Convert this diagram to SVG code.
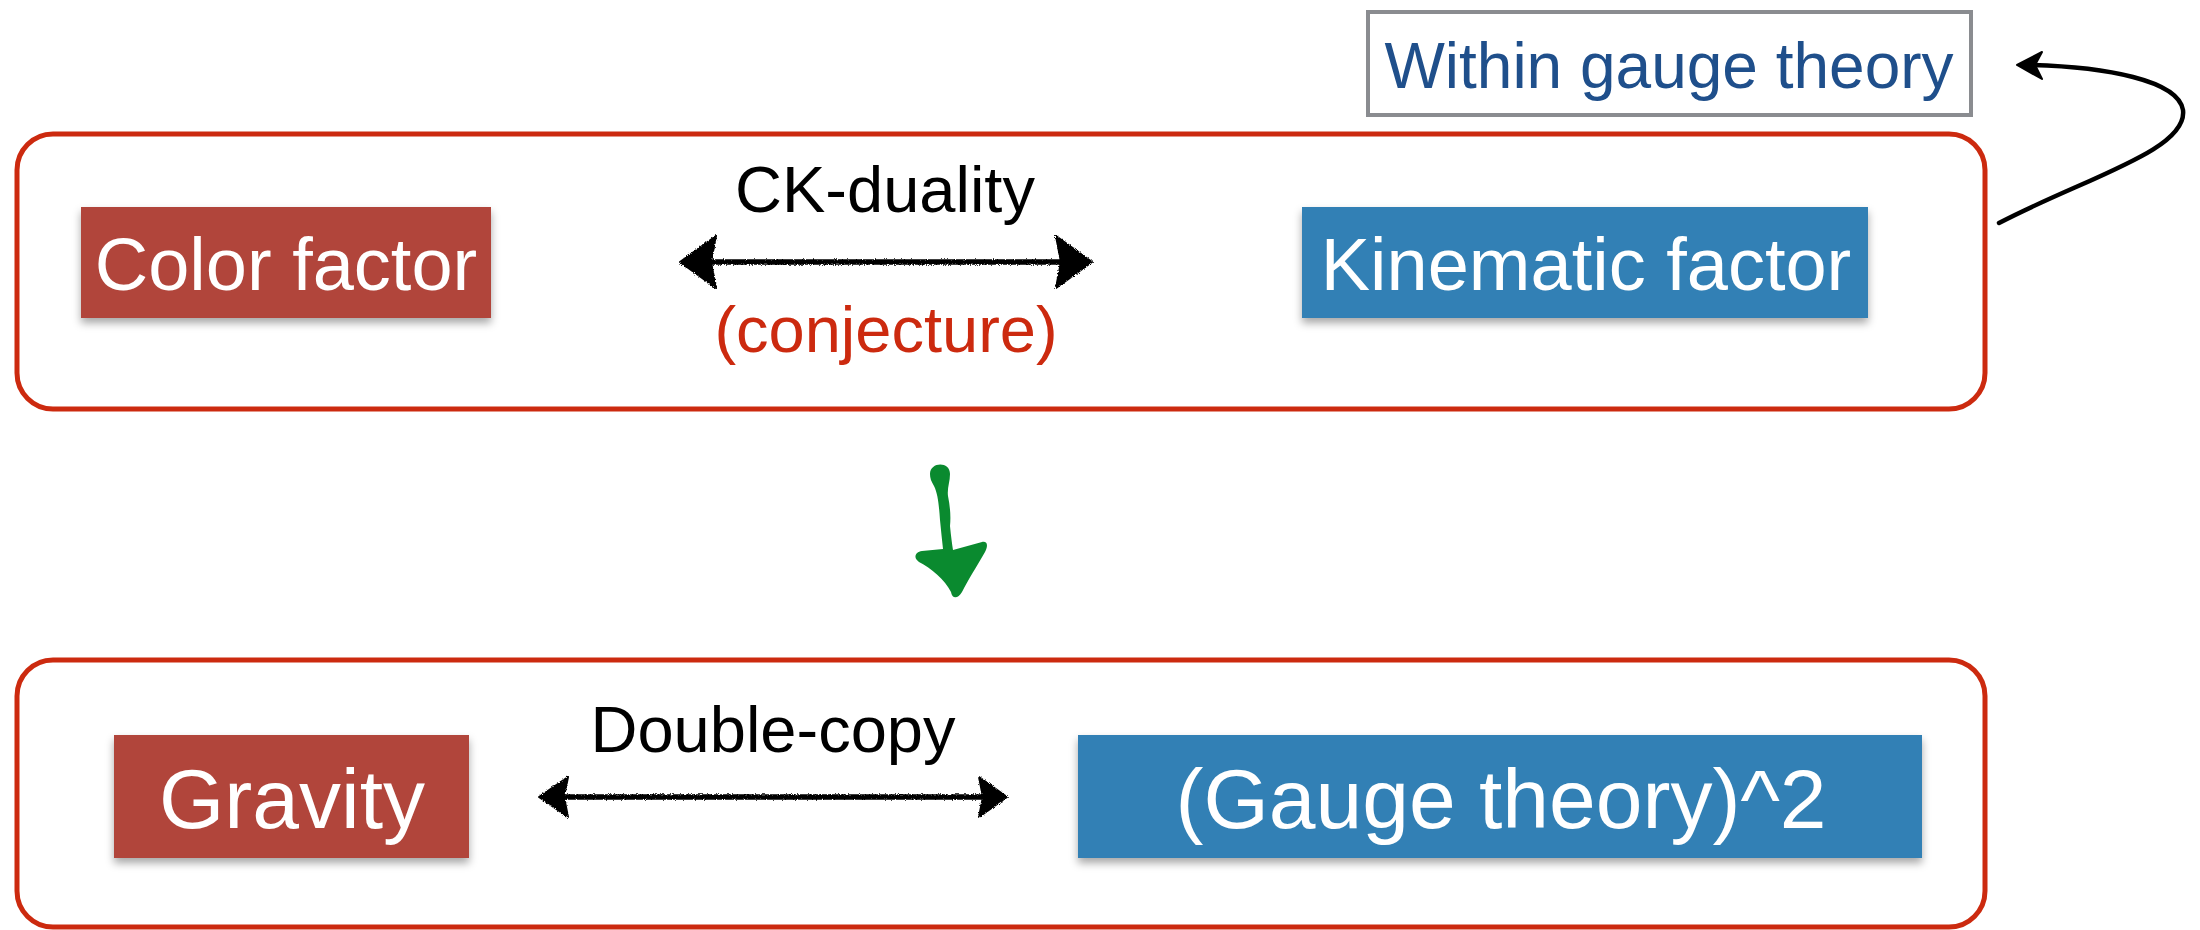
<svg xmlns="http://www.w3.org/2000/svg" width="2200" height="930" viewBox="0 0 2200 930">
<style>
.frame{fill:#fff;stroke:#cc2a0f;stroke-width:5}
.red{fill:#b1443a}
.blue{fill:#3080b5}
.wt{font-family:"Liberation Sans",Arial,sans-serif;fill:#fff;text-anchor:middle}
.lbl{font-family:"Liberation Sans",Arial,sans-serif;fill:#000;text-anchor:middle;font-size:65px}
.sk{stroke:#000;stroke-width:5.5;fill:none;stroke-linecap:round}
.hd{fill:#000;stroke:#000;stroke-width:2;stroke-linejoin:round}
</style>
<defs>
<filter id="sh" x="-10%" y="-10%" width="120%" height="130%">
<feDropShadow dx="0" dy="5" stdDeviation="4" flood-color="#000" flood-opacity="0.35"/>
</filter>
<filter id="rough" x="-5%" y="-50%" width="110%" height="200%">
<feTurbulence type="fractalNoise" baseFrequency="0.9" numOctaves="2" seed="3"/>
<feDisplacementMap in="SourceGraphic" scale="3.5" xChannelSelector="R" yChannelSelector="G"/>
</filter>
</defs>
<rect width="2200" height="930" fill="#fff"/>

<g id="frame-top"><rect class="frame" x="17" y="134" width="1968" height="275" rx="36"/></g>
<g id="frame-bottom"><rect class="frame" x="17" y="660" width="1968" height="267" rx="36"/></g>

<g id="within">
<rect x="1368" y="12" width="603" height="103" fill="#fff" stroke="#8a8c90" stroke-width="4"/>
<text x="1669" y="88" font-family="Liberation Sans,Arial,sans-serif" font-size="64" fill="#1f4f8b" text-anchor="middle">Within gauge theory</text>
</g>

<g id="color-factor">
<rect class="red" x="81" y="207" width="410" height="111" filter="url(#sh)"/>
<text class="wt" x="286" y="290" font-size="74">Color factor</text>
</g>
<g id="kinematic-factor">
<rect class="blue" x="1302" y="207" width="566" height="111" filter="url(#sh)"/>
<text class="wt" x="1586" y="290" font-size="74">Kinematic factor</text>
</g>
<g id="gravity">
<rect class="red" x="114" y="735" width="355" height="123" filter="url(#sh)"/>
<text class="wt" x="292" y="828" font-size="84">Gravity</text>
</g>
<g id="gauge-squared">
<rect class="blue" x="1078" y="735" width="844" height="123" filter="url(#sh)"/>
<text class="wt" x="1501" y="828" font-size="84">(Gauge theory)^2</text>
</g>

<g id="labels">
<text class="lbl" x="885" y="212">CK-duality</text>
<text class="lbl" x="886" y="352" style="fill:#cc2a0f">(conjecture)</text>
<text class="lbl" x="773" y="752">Double-copy</text>
</g>

<g id="connectors">
<g filter="url(#rough)">
<path class="sk" d="M700 262 L1072 262"/>
<polygon class="hd" points="680,262 716,236 711,262 716,288"/>
<polygon class="hd" points="1092,262 1056,236 1061,262 1056,288"/>
<path class="sk" d="M556 797 L992 797" stroke-width="5"/>
<polygon class="hd" points="539,797 568,777 564,797 568,817"/>
<polygon class="hd" points="1007,797 979,777 983,797 979,817"/>
</g>
<path d="M1999 223 C2085 178 2188 150 2183 110 C2178 80 2105 67 2032 65" fill="none" stroke="#000" stroke-width="4.5" stroke-linecap="round"/>
<polygon points="2017,65 2042,52 2035,65 2042,79" fill="#000" stroke="#000" stroke-width="2" stroke-linejoin="round"/>
<g id="green-arrow" fill="#0a8a2f">
<path d="M930 474 C930 462 950 461 950 474 C950 482 947 488 948 496 C950 506 951 516 950 526 C951 536 952 544 953 550 L982 542 C988 541 988 546 985 552 C977 566 968 580 962 592 C958 599 952 599 951 592 C945 580 931 568 919 562 C913 558 915 552 922 551 L943 549 C942 540 941 530 940 520 C939 506 938 494 934 486 C931 481 930 478 930 474 Z"/>
</g>
</g>
</svg>
